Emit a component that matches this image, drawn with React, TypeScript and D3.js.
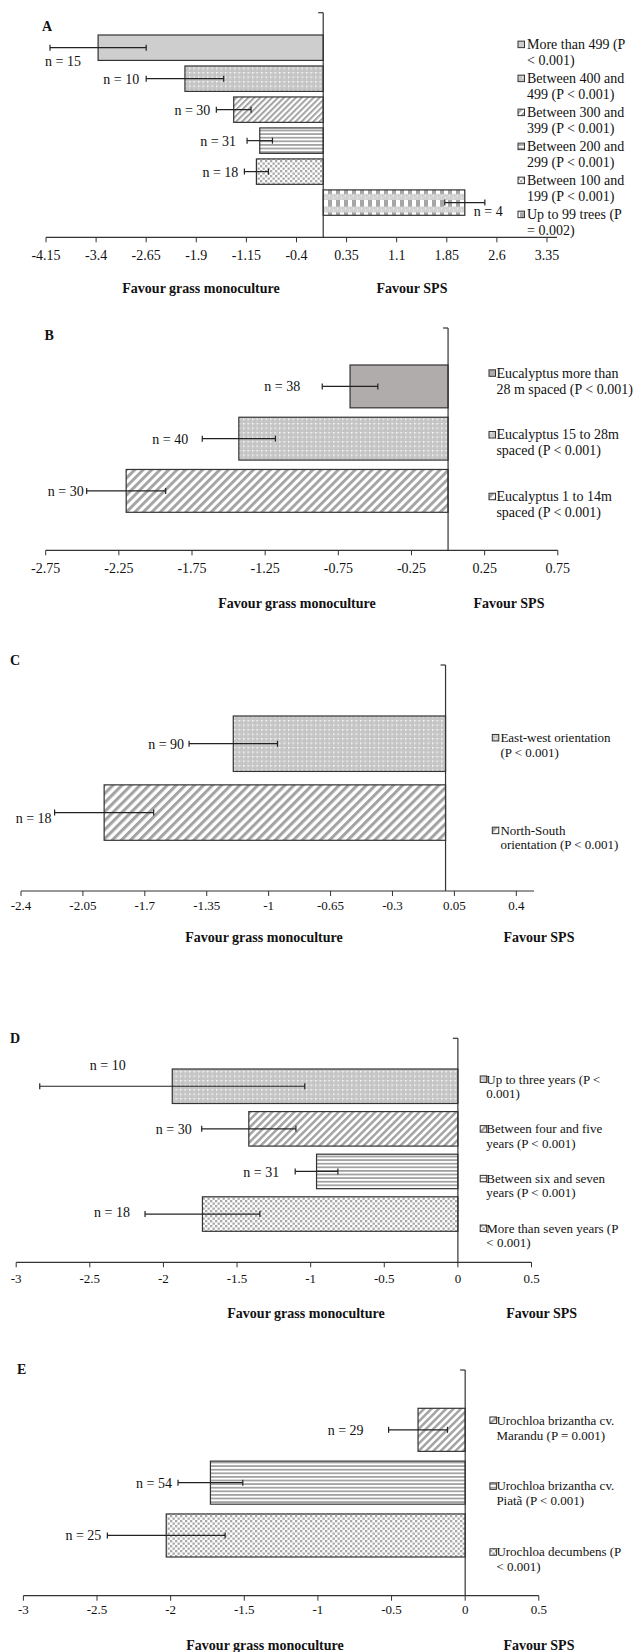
import React from "react";
import * as d3 from "d3";

const W = 633;
const H = 1652;
const FONT = '"Liberation Serif", "Times New Roman", serif';

// A - number of trees per hectare
const legendA = [
  ["More than 499 (P", "< 0.001)"],
  ["Between 400 and", "499 (P < 0.001)"],
  ["Between 300 and", "399 (P < 0.001)"],
  ["Between 200 and", "299 (P < 0.001)"],
  ["Between 100 and", "199 (P < 0.001)"],
  ["Up to 99 trees (P", "= 0.002)"],
];
const meanA = [-3.37, -2.07, -1.34, -0.95, -1.0, 2.12];
const errA = [0.72, 0.58, 0.26, 0.19, 0.18, 0.3];
const nA = [15, 10, 30, 31, 18, 4];
const ticksA = [-4.15, -3.4, -2.65, -1.9, -1.15, -0.4, 0.35, 1.1, 1.85, 2.6, 3.35];
const domainA = [-4.15, 3.5];
const fillA = ["solid", "dotgrid", "diag", "hline", "dots", "checker"];

// B - eucalyptus spacing
const legendB = [
  ["Eucalyptus more than", "28 m spaced (P < 0.001)"],
  ["Eucalyptus 15 to 28m", "spaced (P < 0.001)"],
  ["Eucalyptus 1 to 14m", "spaced (P < 0.001)"],
];
const meanB = [-0.67, -1.43, -2.2];
const errB = [0.19, 0.25, 0.27];
const nB = [38, 40, 30];
const ticksB = [-2.75, -2.25, -1.75, -1.25, -0.75, -0.25, 0.25, 0.75];
const domainB = [-2.75, 0.75];
const fillB = ["solidDark", "dotgrid", "diag"];

// C - row orientation
const legendC = [
  ["East-west orientation", "(P < 0.001)"],
  ["North-South", "orientation (P < 0.001)"],
];
const meanC = [-1.2, -1.93];
const errC = [0.25, 0.28];
const nC = [90, 18];
const ticksC = [-2.4, -2.05, -1.7, -1.35, -1, -0.65, -0.3, 0.05, 0.4];
const domainC = [-2.4, 0.5];
const fillC = ["dotgrid", "diag"];

// D - system age
const legendD = [
  ["Up to three years (P <", "0.001)"],
  ["Between four and five", "years (P < 0.001)"],
  ["Between six and seven", "years (P < 0.001)"],
  ["More than seven years (P", "< 0.001)"],
];
const meanD = [-1.94, -1.42, -0.96, -1.735];
const errD = [0.9, 0.32, 0.145, 0.39];
const nD = [10, 30, 31, 18];
const ticksD = [-3, -2.5, -2, -1.5, -1, -0.5, 0, 0.5];
const domainD = [-3, 0.5];
const fillD = ["dotgrid", "diag", "hline", "dots"];

// E - grass species
const legendE = [
  ["Urochloa brizantha cv.", "Marandu  (P = 0.001)"],
  ["Urochloa brizantha cv.", "Piatã (P < 0.001)"],
  ["Urochloa decumbens (P", "< 0.001)"],
];
const meanE = [-0.32, -1.73, -2.03];
const errE = [0.2, 0.22, 0.4];
const nE = [29, 54, 25];
const ticksE = [-3, -2.5, -2, -1.5, -1, -0.5, 0, 0.5];
const domainE = [-3, 0.5];
const fillE = ["diag", "hline", "dots"];

// layout (pixels) for each panel
const layA = {
  lx: 42, ly: 31, x0: 46, x1: 557, top: 12.7, bottom: 237.3, barTop: 35, barBottom: 215.3, pad: 0.18,
  fs: 14, tickY: 260, titleY: 293, titleL: 201, titleR: 412,
  sqX: 518, txtX: 527, legY: 49, legStep: 34, legLh: 15.7, diag: 4.2,
  nPos: [["start", -5, 13], ["end", -7, 0], ["end", -6, 0], ["end", -11, 0], ["end", -6, 0], ["start", 29, 8]],
};
const layB = {
  lx: 44.5, ly: 340, x0: 45.7, x1: 557.8, top: 328, bottom: 550.3, barTop: 365, barBottom: 512.3, pad: 0.18,
  fs: 14, tickY: 572.5, titleY: 607.7, titleL: 297, titleR: 509,
  sqX: 489, txtX: 496.4, legY: 377.7, legStep: 61.7, legLh: 16, diag: 6,
  nPos: [["end", -22, 0], ["end", -14, 0], ["end", -3, 0]],
};
const layC = {
  lx: 10, ly: 665, x0: 21, x1: 534, top: 665, bottom: 891, barTop: 716, barBottom: 840.3, pad: 0.195,
  fs: 13, tickY: 910, titleY: 941.7, titleL: 264, titleR: 539,
  sqX: 492.3, txtX: 500.4, legY: 742, legStep: 92.7, legLh: 14.6, diag: 6.4,
  nPos: [["end", -5, 0], ["end", -3, 5]],
};
const layD = {
  lx: 10, ly: 1042.7, x0: 16.2, x1: 531.5, top: 1038.3, bottom: 1262.3, barTop: 1069, barBottom: 1231.3, pad: 0.19,
  fs: 13, tickY: 1282.8, titleY: 1318.3, titleL: 306, titleR: 541.7,
  sqX: 480.2, txtX: 486.3, legY: 1083.5, legStep: 49.7, legLh: 14.3, diag: 5.2,
  nPos: [["middle", 68, -21], ["end", -10, 0], ["end", -16, 1], ["end", -15, -2]],
};
const layE = {
  lx: 17, ly: 1374.3, x0: 23.4, x1: 538.8, top: 1370, bottom: 1595.7, barTop: 1408.3, barBottom: 1557, pad: 0.185,
  fs: 13, tickY: 1613.8, titleY: 1650, titleL: 265, titleR: 539,
  sqX: 489.9, txtX: 496.4, legY: 1424.5, legStep: 65.9, legLh: 15, diag: 5.2,
  nPos: [["end", -25, 0], ["end", -6, 0], ["end", -6, 0]],
};

const panels = [
  { id: "A", legend: legendA, mean: meanA, err: errA, n: nA, ticks: ticksA, domain: domainA, fills: fillA, lay: layA },
  { id: "B", legend: legendB, mean: meanB, err: errB, n: nB, ticks: ticksB, domain: domainB, fills: fillB, lay: layB },
  { id: "C", legend: legendC, mean: meanC, err: errC, n: nC, ticks: ticksC, domain: domainC, fills: fillC, lay: layC },
  { id: "D", legend: legendD, mean: meanD, err: errD, n: nD, ticks: ticksD, domain: domainD, fills: fillD, lay: layD },
  { id: "E", legend: legendE, mean: meanE, err: errE, n: nE, ticks: ticksE, domain: domainE, fills: fillE, lay: layE },
];

const INK = "#333333";
const STRIPE = "#a3a3a3";

function Patterns({ id, diag }: { id: string; diag: number }) {
  return (
    <>
      <pattern id={`${id}-dotgrid`} width={4.5} height={4.5} patternUnits="userSpaceOnUse">
        <rect width={4.5} height={4.5} fill="#c4c4c4" />
        <rect x={2.25} y={0} width={1} height={1} fill="#d6d6d6" />
        <rect x={0} y={2.25} width={1} height={1} fill="#d6d6d6" />
        <rect x={0} y={0} width={1.4} height={1.4} fill="#ffffff" />
      </pattern>
      <pattern id={`${id}-dots`} width={5} height={5} patternUnits="userSpaceOnUse">
        <rect width={5} height={5} fill="#ffffff" />
        <rect x={0} y={0} width={2.3} height={2.3} fill="#a8a8a8" />
        <rect x={2.5} y={2.5} width={2.3} height={2.3} fill="#a8a8a8" />
      </pattern>
      <pattern id={`${id}-hline`} width={4} height={3.6} patternUnits="userSpaceOnUse">
        <rect width={4} height={3.6} fill="#ffffff" />
        <rect x={0} y={0} width={4} height={1.8} fill={STRIPE} />
      </pattern>
      <pattern
        id={`${id}-diag`}
        width={diag}
        height={diag}
        patternUnits="userSpaceOnUse"
        patternTransform="rotate(45)"
      >
        <rect width={diag} height={diag} fill="#ffffff" />
        <rect x={0} y={0} width={diag * 0.48} height={diag} fill={STRIPE} />
      </pattern>
      <pattern id={`${id}-checker`} width={8} height={12.5} patternUnits="userSpaceOnUse">
        <rect width={8} height={12.5} fill="#d2d2d2" />
        <rect x={0} y={0} width={4} height={6.5} fill="#a6a6a6" />
        <rect x={4} y={0} width={4} height={6.5} fill="#ffffff" />
        <rect x={1} y={8} width={1} height={1} fill="#ffffff" />
        <rect x={5} y={10} width={1} height={1} fill="#ffffff" />
      </pattern>
    </>
  );
}

function fillOf(id: string, kind: string) {
  if (kind === "solid") return "#cecece";
  if (kind === "solidDark") return "#b1acac";
  return `url(#${id}-${kind})`;
}

function Panel({ p }: { p: (typeof panels)[number] }) {
  const L = p.lay;
  const x = d3.scaleLinear().domain(p.domain).range([L.x0, L.x1]);
  const y = d3
    .scaleBand<number>()
    .domain(d3.range(p.mean.length))
    .range([L.barTop, L.barBottom])
    .paddingInner(L.pad)
    .paddingOuter(0);
  const x0 = x(0);
  const bw = y.bandwidth();

  return (
    <g fontFamily={FONT}>
      <defs>
        <Patterns id={p.id} diag={L.diag} />
      </defs>

      <text x={L.lx} y={L.ly} fontSize={14} fontWeight="bold" fill="#111">
        {p.id}
      </text>

      {/* bars */}
      {p.mean.map((m, i) => (
        <rect
          key={"b" + i}
          x={Math.min(x(m), x0)}
          y={y(i)}
          width={Math.abs(x(m) - x0)}
          height={bw}
          fill={fillOf(p.id, p.fills[i])}
          stroke={INK}
          strokeWidth={1.2}
        />
      ))}

      {/* error bars */}
      {p.mean.map((m, i) => {
        const cy = (y(i) as number) + bw / 2;
        const a = x(m - p.err[i]);
        const b = x(m + p.err[i]);
        return (
          <g key={"e" + i} stroke="#222" strokeWidth={1.2}>
            <line x1={a} x2={b} y1={cy} y2={cy} />
            <line x1={a} x2={a} y1={cy - 3} y2={cy + 3} />
            <line x1={b} x2={b} y1={cy - 3} y2={cy + 3} />
          </g>
        );
      })}

      {/* n labels */}
      {p.n.map((n, i) => {
        const [anchor, dx, dy] = L.nPos[i] as [string, number, number];
        const cy = (y(i) as number) + bw / 2;
        return (
          <text
            key={"n" + i}
            x={x(p.mean[i] - p.err[i]) + dx}
            y={cy + dy + 5}
            fontSize={14}
            textAnchor={anchor}
            fill="#111"
          >
            {`n = ${n}`}
          </text>
        );
      })}

      {/* axes */}
      <line x1={x0} x2={x0} y1={L.top} y2={L.bottom} stroke={INK} strokeWidth={1.2} />
      <line x1={x0 - 5} x2={x0} y1={L.top} y2={L.top} stroke={INK} strokeWidth={1.2} />
      <line x1={L.x0} x2={L.x1} y1={L.bottom} y2={L.bottom} stroke={INK} strokeWidth={1.2} />
      {p.ticks.map((t) => (
        <g key={"t" + t}>
          <line x1={x(t)} x2={x(t)} y1={L.bottom} y2={L.bottom + 5} stroke={INK} strokeWidth={1} />
          <text x={x(t)} y={L.tickY} fontSize={L.fs} textAnchor="middle" fill="#111">
            {String(t)}
          </text>
        </g>
      ))}

      <text x={L.titleL} y={L.titleY} fontSize={14} fontWeight="bold" textAnchor="middle" fill="#111">
        Favour grass monoculture
      </text>
      <text x={L.titleR} y={L.titleY} fontSize={14} fontWeight="bold" textAnchor="middle" fill="#111">
        Favour SPS
      </text>

      {/* legend */}
      {p.legend.map((lines, i) => {
        const by = L.legY + i * L.legStep;
        return (
          <g key={"l" + i}>
            <rect
              x={L.sqX}
              y={by - L.fs * 0.33 - 3.25}
              width={6.5}
              height={6.5}
              fill={fillOf(p.id, p.fills[i])}
              stroke={INK}
              strokeWidth={1}
            />
            {lines.map((s, k) => (
              <text key={k} x={L.txtX} y={by + k * L.legLh} fontSize={L.fs} fill="#111">
                {s}
              </text>
            ))}
          </g>
        );
      })}
    </g>
  );
}

export default function App() {
  return (
    <svg
      width={W}
      height={H}
      viewBox={`0 0 ${W} ${H}`}
      style={{ position: "absolute", left: 0, top: 0, background: "#fff" }}
    >
      <rect width={W} height={H} fill="#fff" />
      {panels.map((p) => (
        <Panel key={p.id} p={p} />
      ))}
    </svg>
  );
}
